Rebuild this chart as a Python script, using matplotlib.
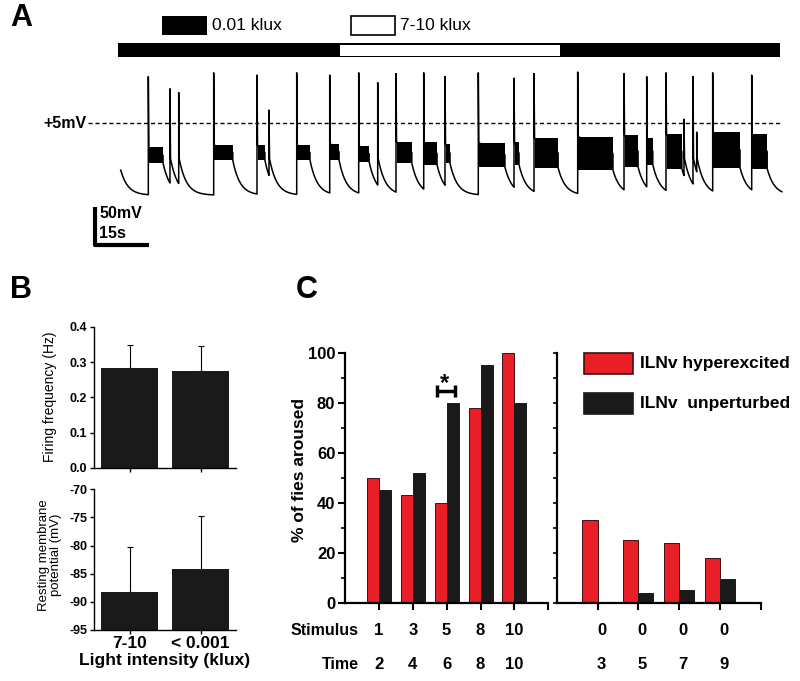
import numpy as np
import matplotlib
matplotlib.use("Agg")
import matplotlib.pyplot as plt
from matplotlib.patches import Rectangle
from matplotlib.transforms import blended_transform_factory

plt.rcParams['font.family'] = ['Liberation Sans', 'DejaVu Sans']
plt.rcParams['axes.unicode_minus'] = False

# ---------------- data ----------------
# Panel A: membrane potential recording (time in s, voltage in mV)
spike_t = [8.42, 14.44, 16.86, 26.58, 38.61, 41.94, 49.64, 58.81, 66.86, 72.14,
           77.22, 84.92, 90.83, 100.08, 110.0, 115.56, 127.69, 140.56, 146.86,
           152.22, 157.22, 159.72, 160.75, 165.19, 176.03]
spike_peak = [66, 50, 45, 71, 68, 22, 71, 68, 71, 58,
              70, 71, 66, 71, 64, 70, 72, 70, 66,
              71, 10, 66, -7, 71, 68]
plateau_dur = [4.1, 0, 0, 5.3, 2.2, 0, 3.7, 2.6, 2.9, 0,
               4.4, 3.7, 1.4, 7.4, 1.4, 6.7, 9.8, 3.9, 1.7,
               4.4, 0, 0, 0, 7.6, 4.3]
plateau_hi = [-27, -40, -40, -24, -24, -40, -24, -22, -25, -40,
              -20, -20, -22, -21, -20, -15, -13, -11, -15,
              -10, -40, -40, -40, -7, -10]
plateau_lo = [-48, -42, -42, -44, -44, -42, -44, -44, -46, -42,
              -48, -50, -48, -53, -50, -54, -57, -53, -50,
              -55, -42, -42, -42, -54, -55]
trace_start_t, trace_start_v = 0.75, -57
trace_end_t = 184.4
rest_mv = -90
light_starts = [0, 61.7, 122.8]
light_ends = [61.7, 122.8, 183.9]
light_is_bright = [False, True, False]

# Panel B
light_labels = ['7-10', '< 0.001']
firing_hz = [0.282, 0.276]
firing_err = [0.067, 0.070]
rmp_mv = [-88.2, -84.2]
rmp_err = [8.0, 9.5]

# Panel C
stim_on = ['1', '3', '5', '8', '10']
time_on = ['2', '4', '6', '8', '10']
hyper_on = [50, 43, 40, 78, 100]
unpert_on = [45, 52, 80, 95, 80]
stim_off = ['0', '0', '0', '0']
time_off = ['3', '5', '7', '9']
hyper_off = [33, 25, 24, 18]
unpert_off = [0, 4, 5, 9.5]

RED = '#e81f27'
W, H = 800, 681


def px_box(x0, y0, x1, y1):
    return [x0 / W, 1 - y1 / H, (x1 - x0) / W, (y1 - y0) / H]


fig = plt.figure(figsize=(8, 6.81), dpi=100)

# ---------------- panel A ----------------
def tx(px):
    return (px - 118) * 15 / 54


def vy(py):
    return 5 - (py - 123) * 50 / 38


axA = fig.add_axes([0, 1 - 255 / H, 1, 255 / H])
axA.set_xlim(tx(0), tx(W))
axA.set_ylim(vy(255), vy(0))
axA.axis('off')

ts, vs = [], []
t_prev, v_prev = trace_start_t, trace_start_v
tau = 2.0
for i, t0 in enumerate(spike_t):
    tt = np.linspace(t_prev, t0, max(2, int((t0 - t_prev) * 12)))
    vv = rest_mv + (v_prev - rest_mv) * np.exp(-(tt - t_prev) / tau)
    ts += list(tt)
    vs += list(vv)
    ts += [t0]
    vs += [spike_peak[i]]
    if plateau_dur[i] > 0:
        t1 = t0 + plateau_dur[i]
        mid = (plateau_hi[i] + plateau_lo[i]) / 2
        ts += [t0 + 0.15, t1]
        vs += [plateau_hi[i], mid]
        axA.fill_between([t0 + 0.15, t1], [plateau_lo[i], plateau_lo[i]],
                         [plateau_hi[i], plateau_hi[i]], color='k', lw=0)
        ts += [t1]
        vs += [plateau_lo[i]]
        t_prev, v_prev = t1, plateau_lo[i]
    else:
        ts += [t0 + 0.15]
        vs += [plateau_lo[i]]
        t_prev, v_prev = t0 + 0.15, plateau_lo[i]
tt = np.linspace(t_prev, trace_end_t, 60)
ts += list(tt)
vs += list(rest_mv + (v_prev - rest_mv) * np.exp(-(tt - t_prev) / tau))
axA.plot(ts, vs, color='k', lw=1.1)

# +5 mV reference line
axA.plot([tx(88), tx(780)], [5, 5], color='k', lw=1, ls=(0, (3, 2)))
axA.text(tx(87), 5, '+5mV', ha='right', va='center', fontsize=11.5, fontweight='bold')

# light condition bar
y_lo, y_hi = vy(57), vy(43)
for s, e, bright in zip(light_starts, light_ends, light_is_bright):
    axA.add_patch(Rectangle((s, y_lo), e - s, y_hi - y_lo, fc='k', ec='k', lw=0))
    if bright:
        axA.add_patch(Rectangle((s, vy(56)), e - s, vy(45) - vy(56), fc='white', lw=0))

# legend of light levels
axA.add_patch(Rectangle((tx(162), vy(35)), tx(207) - tx(162), vy(16) - vy(35), fc='k', lw=0))
axA.text(tx(212), vy(26), '0.01 klux', va='center', ha='left', fontsize=12.5)
axA.add_patch(Rectangle((tx(351), vy(35)), tx(395) - tx(351), vy(16) - vy(35),
                        fc='white', ec='k', lw=1.2))
axA.text(tx(400), vy(26), '7-10 klux', va='center', ha='left', fontsize=12.5)

# scale bar
axA.plot([tx(95), tx(95), tx(149)], [vy(207), vy(245), vy(245)], color='k', lw=3,
         solid_capstyle='butt')
axA.text(tx(99), vy(214), '50mV', ha='left', va='center', fontsize=11.5, fontweight='bold')
axA.text(tx(99), vy(233), '15s', ha='left', va='center', fontsize=11.5, fontweight='bold')

fig.text(10 / W, 1 - 18 / H, 'A', fontsize=22, fontweight='bold', va='center', ha='left')

# ---------------- panel B ----------------
xb = np.arange(len(light_labels))
axB1 = fig.add_axes(px_box(94.3, 326.7, 236, 468))
axB2 = fig.add_axes(px_box(94.3, 489.3, 236, 630))

axB1.bar(xb, firing_hz, 0.8, color='#1a1a1a', zorder=2)
axB1.errorbar(xb, firing_hz, yerr=[[0, 0], firing_err], fmt='none', ecolor='k',
              elinewidth=0.8, capsize=2, capthick=0.8, zorder=1)
axB1.set_ylim(0, 0.4)
axB1.set_yticks([0, 0.1, 0.2, 0.3, 0.4])
axB1.set_yticklabels(['0.0', '0.1', '0.2', '0.3', '0.4'])
axB1.set_xticks(xb)
axB1.set_xticklabels([])

axB2.bar(xb, [v + 95 for v in rmp_mv], 0.8, bottom=-95, color='#1a1a1a', zorder=2)
axB2.errorbar(xb, rmp_mv, yerr=[[0, 0], rmp_err], fmt='none', ecolor='k',
              elinewidth=0.8, capsize=2, capthick=0.8, zorder=1)
axB2.set_ylim(-95, -70)
axB2.set_yticks([-95, -90, -85, -80, -75, -70])
axB2.set_xticks(xb)
axB2.set_xticklabels(light_labels, fontsize=12.5, fontweight='bold')

for ax in (axB1, axB2):
    ax.set_xlim(-0.5, 1.5)
    for s in ('top', 'right'):
        ax.spines[s].set_visible(False)
    for s in ('left', 'bottom'):
        ax.spines[s].set_linewidth(1.0)
    ax.tick_params(axis='y', labelsize=9, length=3, width=1, pad=2)
    ax.tick_params(axis='x', length=3, width=1, pad=1)
    for lab in ax.get_yticklabels():
        lab.set_fontweight('bold')

fig.text(50 / W, 1 - 397 / H, 'Firing frequency (Hz)', rotation=90, ha='center',
         va='center', fontsize=10)
fig.text(50 / W, 1 - 555 / H, 'Resting membrane\npotential (mV)', rotation=90,
         ha='center', va='center', fontsize=9.5, linespacing=1.0)
fig.text(165 / W, 1 - 660 / H, 'Light intensity (klux)', ha='center', va='center',
         fontsize=12.5, fontweight='bold')
fig.text(10 / W, 1 - 290 / H, 'B', fontsize=22, fontweight='bold', va='center', ha='left')

# ---------------- panel C ----------------
axL = fig.add_axes(px_box(345, 352.7, 548.3, 603))
axR = fig.add_axes(px_box(556.7, 352.7, 760.7, 603))

xl = np.arange(len(stim_on))
xr = np.arange(len(stim_off))
wl, wr = 0.355, 0.37
axL.bar(xl - wl / 2, hyper_on, wl, color=RED, edgecolor='#40100f', lw=0.7, clip_on=False)
axL.bar(xl + wl / 2, unpert_on, wl, color='#1a1a1a', edgecolor='#1a1a1a', lw=0.7, clip_on=False)
axR.bar(xr - wr / 2, hyper_off, wr, color=RED, edgecolor='#40100f', lw=0.7, clip_on=False)
axR.bar(xr + wr / 2, unpert_off, wr, color='#1a1a1a', edgecolor='#1a1a1a', lw=0.7, clip_on=False)

axL.set_xlim(-1, 5)
axR.set_xlim(-1, 4)
axL.set_xticks(np.arange(6))
axR.set_xticks(np.arange(5))
for ax in (axL, axR):
    ax.set_ylim(0, 100)
    ax.set_xticklabels([])
    for s in ('top', 'right'):
        ax.spines[s].set_visible(False)
    for s in ('left', 'bottom'):
        ax.spines[s].set_linewidth(1.6)
    ax.tick_params(axis='x', direction='out', length=5, width=1.5)

axL.set_yticks(np.arange(0, 101, 20))
axL.set_yticks(np.arange(10, 100, 20), minor=True)
axL.tick_params(axis='y', which='major', length=5, width=1.5, labelsize=12, pad=2)
axL.tick_params(axis='y', which='minor', length=3, width=1.2)
for lab in axL.get_yticklabels():
    lab.set_fontweight('bold')
axR.set_yticks(np.arange(0, 101, 10))
axR.set_yticklabels([])
axR.tick_params(axis='y', length=3, width=1.2)

# significance marker
axL.errorbar(1.985, 84.7, xerr=0.265, fmt='none', ecolor='k', elinewidth=2.5,
             capsize=4.5, capthick=2.5, clip_on=False)
axL.text(1.93, 87.5, '*', ha='center', va='center', fontsize=17, fontweight='bold')

# row labels under the axes
for ax, xs, stim, tim, dx in ((axL, xl, stim_on, time_on, 0.0), (axR, xr, stim_off, time_off, 0.1)):
    tr = blended_transform_factory(ax.transData, ax.transAxes)
    for x, s, t in zip(xs, stim, tim):
        ax.text(x + dx, -0.108, s, transform=tr, ha='center', va='center',
                fontsize=12, fontweight='bold')
        ax.text(x + dx, -0.244, t, transform=tr, ha='center', va='center',
                fontsize=12, fontweight='bold')
trL = blended_transform_factory(axL.transData, axL.transAxes)
axL.text(-0.6, -0.108, 'Stimulus', transform=trL, ha='right', va='center',
         fontsize=11.5, fontweight='bold')
axL.text(-0.6, -0.244, 'Time', transform=trL, ha='right', va='center',
         fontsize=11.5, fontweight='bold')

# legend
axR.add_patch(Rectangle((0.134, 0.915), 0.24, 0.084, transform=axR.transAxes,
                        fc=RED, ec='#40100f', lw=1.2, clip_on=False))
axR.add_patch(Rectangle((0.134, 0.755), 0.24, 0.084, transform=axR.transAxes,
                        fc='#1a1a1a', ec='#1a1a1a', lw=1.2, clip_on=False))
axR.text(0.408, 0.957, 'ILNv hyperexcited', transform=axR.transAxes, ha='left',
         va='center', fontsize=12.5, fontweight='bold')
axR.text(0.408, 0.797, 'ILNv  unperturbed', transform=axR.transAxes, ha='left',
         va='center', fontsize=12.5, fontweight='bold')

fig.text(300 / W, 1 - 470 / H, '% of fies aroused', rotation=90, ha='center',
         va='center', fontsize=12.5, fontweight='bold')
fig.text(296 / W, 1 - 290 / H, 'C', fontsize=22, fontweight='bold', va='center', ha='left')

fig.savefig('out.png', dpi=100)
